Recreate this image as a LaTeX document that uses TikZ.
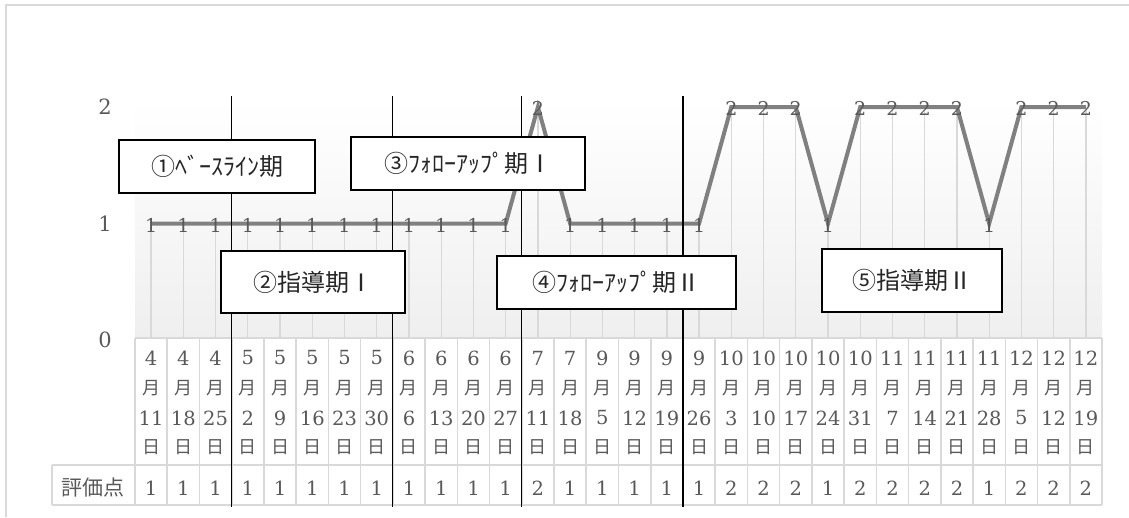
\documentclass[tikz,border=0pt]{standalone}
\usepackage{fontspec}
\newfontfamily\jp{Noto Sans CJK JP}
\newfontfamily\num{DejaVu Serif}
\definecolor{txtgray}{HTML}{595959}
\definecolor{linegray}{HTML}{808080}
\definecolor{gridgray}{HTML}{D9D9D9}
\definecolor{bggray}{HTML}{EFEFEF}
\begin{document}
\begin{tikzpicture}[x=1pt,y=-1pt,
  frameline/.style={draw=gridgray,line width=2pt},
  tbl/.style={draw=gridgray,line width=1.6pt},
  dropline/.style={draw=gridgray,line width=1.3pt},
  dataline/.style={draw=linegray,line width=4pt},
  periodline/.style={draw=black,line width=1.1pt},
  axislbl/.style={text=txtgray,font=\num\fontsize{21}{21}\selectfont,inner sep=0pt},
  datalbl/.style={text=txtgray,font=\num\fontsize{19}{19}\selectfont,inner sep=0pt},
  cellnum/.style={text=txtgray,font=\num\fontsize{19.5}{19.5}\selectfont,inner sep=0pt},
  celljp/.style={text=txtgray,font=\jp\fontsize{18}{18}\selectfont,inner sep=0pt},
  phasebox/.style={draw=black,fill=white,line width=1.6pt,text=black!85,
    font=\jp\fontsize{24}{24}\selectfont,inner sep=0pt}]
\useasboundingbox (0,0) rectangle (1129,517);
\pgfmathsetmacro\cw{32.233}
% outer frame
\draw[frameline] (6,517) -- (6,5) -- (1129,5);
% plot area
\shade[top color=white,bottom color=bggray] (135,100) rectangle (1102,338);
\coordinate (base) at (0,338);
% data points
\foreach \m/\d/\s [count=\i from 0] in {4/11/1,4/18/1,4/25/1,5/2/1,5/9/1,5/16/1,5/23/1,5/30/1,6/6/1,6/13/1,6/20/1,6/27/1,7/11/2,7/18/1,9/5/1,9/12/1,9/19/1,9/26/1,10/3/2,10/10/2,10/17/2,10/24/1,10/31/2,11/7/2,11/14/2,11/21/2,11/28/1,12/5/2,12/12/2,12/19/2}{
  \coordinate (p\i) at ({135+\cw*(\i+0.5)},{340-116.5*\s});
}
% drop lines
\foreach \i in {0,...,29}{ \draw[dropline] (p\i) -- (p\i |- base); }
% table
\draw[tbl] (135,338) -- (1102,338);
\draw[tbl] (52,465) -- (1102,465);
\draw[tbl] (52,505) -- (1102,505);
\draw[tbl] (52,465) -- (52,505);
\foreach \k in {0,...,30}{ \draw[tbl] ({135+\cw*\k},338) -- ({135+\cw*\k},505); }
\node[text=txtgray,font=\jp\fontsize{21}{21}\selectfont,inner sep=0pt] (hdr) at (93,487) {評価点};
\foreach \m/\d/\s [count=\i from 0] in {4/11/1,4/18/1,4/25/1,5/2/1,5/9/1,5/16/1,5/23/1,5/30/1,6/6/1,6/13/1,6/20/1,6/27/1,7/11/2,7/18/1,9/5/1,9/12/1,9/19/1,9/26/1,10/3/2,10/10/2,10/17/2,10/24/1,10/31/2,11/7/2,11/14/2,11/21/2,11/28/1,12/5/2,12/12/2,12/19/2}{
  \pgfmathsetmacro\cx{135+\cw*(\i+0.5)}
  \node[cellnum] (m\i) at (\cx,358) {\m};
  \node[celljp] (k\i) at (\cx,388) {月};
  \node[cellnum] (d\i) at (\cx,418) {\d};
  \node[celljp] (n\i) at (\cx,447) {日};
  \node[cellnum] (s\i) at (\cx,488) {\s};
}
% data line
\draw[dataline] (p0) \foreach \i in {1,...,29}{ -- (p\i) };
% data labels
\foreach \m/\d/\s [count=\i from 0] in {4/11/1,4/18/1,4/25/1,5/2/1,5/9/1,5/16/1,5/23/1,5/30/1,6/6/1,6/13/1,6/20/1,6/27/1,7/11/2,7/18/1,9/5/1,9/12/1,9/19/1,9/26/1,10/3/2,10/10/2,10/17/2,10/24/1,10/31/2,11/7/2,11/14/2,11/21/2,11/28/1,12/5/2,12/12/2,12/19/2}{
  \node[datalbl] (l\i) at ([yshift=-1.5pt]p\i) {\s};
}
% axis labels
\node[axislbl] (y2) at (105,107) {2};
\node[axislbl] (y1) at (105,224) {1};
\node[axislbl] (y0) at (105,340) {0};
% period lines
\foreach \k in {3,8,12,17}{
  \coordinate (t\k) at ({135+\cw*\k},96);
  \coordinate (b\k) at ({135+\cw*\k},507);
  \draw[periodline] (t\k) -- (b\k);
}
% phase boxes
\node[phasebox,minimum width=196pt,minimum height=53pt] (ph1) at (217,166.5) {①ﾍﾞｰｽﾗｲﾝ期};
\node[phasebox,minimum width=184pt,minimum height=62pt] (ph2) at (313,282) {②指導期Ⅰ};
\node[phasebox,minimum width=234pt,minimum height=53pt] (ph3) at (468,163.5) {③ﾌｫﾛｰｱｯﾌﾟ期Ⅰ};
\node[phasebox,minimum width=239pt,minimum height=53pt] (ph4) at (616.5,282.5) {④ﾌｫﾛｰｱｯﾌﾟ期Ⅱ};
\node[phasebox,minimum width=180pt,minimum height=63pt] (ph5) at (912,280.5) {⑤指導期Ⅱ};
\end{tikzpicture}
\end{document}
